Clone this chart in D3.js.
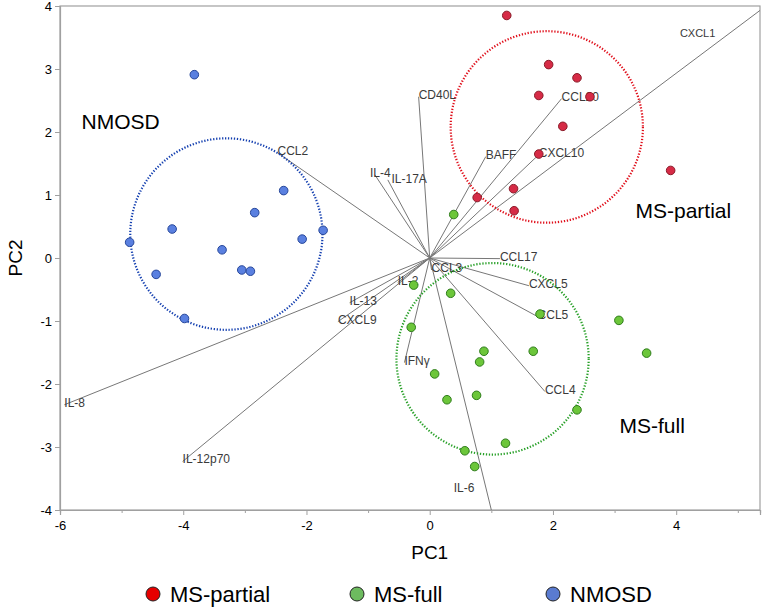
<!DOCTYPE html>
<html>
<head>
<meta charset="utf-8">
<script src="https://cdn.jsdelivr.net/npm/d3@7"></script>
<style>
  body { margin: 0; background: #fff; }
  text { font-family: "Liberation Sans", Arial, sans-serif; }
</style>
</head>
<body>
<div id="chart"></div>
<script>
// PCA biplot: scores per group + cytokine loadings

var msPartial = [
  [1.25, 3.85], [1.93, 3.07], [2.39, 2.86], [1.77, 2.58], [2.6, 2.56],
  [2.16, 2.09], [1.77, 1.65], [1.36, 1.10], [1.37, 0.75], [3.91, 1.39],
  [0.77, 0.96]
];
var msFull = [
  [0.39, 0.69], [-0.26, -0.43], [0.34, -0.56], [-0.30, -1.10], [0.88, -1.48],
  [0.81, -1.65], [0.08, -1.84], [0.28, -2.25], [0.76, -2.18], [1.23, -2.94],
  [0.57, -3.06], [0.73, -3.31], [1.79, -0.89], [3.07, -0.99], [1.68, -1.48],
  [3.52, -1.51], [2.39, -2.41]
];
var nmosd = [
  [-3.82, 2.91], [-4.87, 0.25], [-4.18, 0.46], [-3.37, 0.13], [-2.84, 0.72],
  [-2.37, 1.07], [-2.07, 0.30], [-1.73, 0.44], [-4.44, -0.26], [-3.98, -0.96],
  [-3.05, -0.19], [-2.91, -0.21]
];

// loading vectors: name, x, y
var loadings = [
  ["CXCL1", 5.36, 3.93], ["CD40L", -0.18, 2.56], ["CCL2", -2.47, 1.67],
  ["IL-4", -0.89, 1.32], ["IL-17A", -0.68, 1.24], ["BAFF", 0.91, 1.61],
  ["CCL20", 2.14, 2.53], ["CXCL10", 1.77, 1.64], ["CCL17", 1.14, -0.01],
  ["CXCL5", 1.61, -0.44], ["CCL5", 1.75, -0.93], ["CCL4", 1.87, -2.12],
  ["CCL3", 0.03, -0.19], ["IL-6", 1.0, -4.0], ["IFNγ", -0.41, -1.66],
  ["IL-2", -0.52, -0.39], ["IL-13", -1.30, -0.71], ["CXCL9", -1.49, -1.01],
  ["IL-8", -5.93, -2.33], ["IL-12p70", -4.01, -3.23]
];
// labels that don't sit on the vector tip
var labelAt = {
  "CXCL1": [4.06, 3.54], "IL-6": [0.39, -3.68],
  "IL-4": [-0.97, 1.32], "IL-17A": [-0.62, 1.22]
};

// group ellipses: center x, center y, radius x, radius y
var groupEllipses = [
  ["NMOSD", -3.3, 0.38, 1.56, 1.52],
  ["MS-partial", 1.9, 2.08, 1.56, 1.52],
  ["MS-full", 1.02, -1.6, 1.56, 1.52]
];
var groupLabels = [["NMOSD", -5.65, 2.05], ["MS-partial", 3.34, 0.64], ["MS-full", 3.08, -2.78]];

var xTicks = [-6, -4, -2, 0, 2, 4];
var xMinor = [-5, -3, -1, 1, 3, 5];
var yTicks = [-4, -3, -2, -1, 0, 1, 2, 3, 4];

var colors = {
  "MS-partial": { fill: "#d62b46", stroke: "#8a1a28", legend: "#e60000" },
  "MS-full": { fill: "#6cc63a", stroke: "#2f7d1c", legend: "#6dbb5f" },
  "NMOSD": { fill: "#5a80e0", stroke: "#27479a", legend: "#5a7bd0" }
};
var ringColors = { "MS-partial": "#e0101c", "MS-full": "#28a028", "NMOSD": "#1540b0" };

var W = 765, H = 609;
var svg = d3.select("#chart").append("svg").attr("width", W).attr("height", H);

var x = d3.scaleLinear().domain([-6, 5.36]).range([60, 760]);
var y = d3.scaleLinear().domain([-4, 4]).range([510, 6]);
var fmt = function(d) { return String(d); };

// frame
svg.append("rect")
  .attr("x", x(-6)).attr("y", y(4))
  .attr("width", x(5.36) - x(-6)).attr("height", y(-4) - y(4))
  .attr("fill", "none").attr("stroke", "#a0a0a0").attr("stroke-width", 1.2);

var xAxis = svg.append("g").attr("transform", "translate(0," + y(-4) + ")")
  .call(d3.axisBottom(x).tickValues(xTicks).tickSize(5).tickFormat(fmt));
var xm = svg.append("g").attr("transform", "translate(0," + y(-4) + ")")
  .call(d3.axisBottom(x).tickValues(xMinor).tickSize(3).tickFormat(""));
var yAxis = svg.append("g").attr("transform", "translate(" + x(-6) + ",0)")
  .call(d3.axisLeft(y).tickValues(yTicks).tickSize(5).tickFormat(fmt));

[xAxis, xm, yAxis].forEach(function(g) {
  g.select(".domain").attr("stroke", "#a0a0a0").attr("stroke-width", 1.2);
  g.selectAll(".tick line").attr("stroke", "#a0a0a0");
  g.selectAll("text").attr("font-size", 13).attr("fill", "#000")
    .attr("font-family", "Liberation Sans, Arial, sans-serif");
});
xAxis.selectAll("text").attr("dy", "0.95em");

var plot = svg.append("g");
plot.append("clipPath").attr("id", "clip").append("rect")
  .attr("x", x(-6)).attr("y", y(4))
  .attr("width", x(5.36) - x(-6)).attr("height", y(-4) - y(4));

// loading vectors
plot.append("g").attr("clip-path", "url(#clip)")
  .selectAll("line").data(loadings).join("line")
  .attr("x1", x(0)).attr("y1", y(0))
  .attr("x2", function(d) { return x(d[1]); })
  .attr("y2", function(d) { return y(d[2]); })
  .attr("stroke", "#777").attr("stroke-width", 1);

plot.append("g").selectAll("text").data(loadings).join("text")
  .attr("x", function(d) { return x(labelAt[d[0]] ? labelAt[d[0]][0] : d[1]); })
  .attr("y", function(d) { return y(labelAt[d[0]] ? labelAt[d[0]][1] : d[2]); })
  .attr("dy", 2)
  .attr("font-size", function(d) { return d[0] == "CXCL1" ? 11 : 12; })
  .attr("fill", "#3a3a3a")
  .text(function(d) { return d[0]; });

// dotted group circles
plot.append("g").selectAll("ellipse").data(groupEllipses).join("ellipse")
  .attr("cx", function(d) { return x(d[1]); })
  .attr("cy", function(d) { return y(d[2]); })
  .attr("rx", function(d) { return x(d[3]) - x(0); })
  .attr("ry", function(d) { return y(0) - y(d[4]); })
  .attr("fill", "none")
  .attr("stroke", function(d) { return ringColors[d[0]]; })
  .attr("stroke-width", 2.2)
  .attr("stroke-dasharray", "1.3 1.7");

// points
var groups = [["MS-partial", msPartial], ["MS-full", msFull], ["NMOSD", nmosd]];
groups.forEach(function(g) {
  plot.append("g").selectAll("circle").data(g[1]).join("circle")
    .attr("cx", function(d) { return x(d[0]); })
    .attr("cy", function(d) { return y(d[1]); })
    .attr("r", 4.3)
    .attr("fill", colors[g[0]].fill)
    .attr("stroke", colors[g[0]].stroke)
    .attr("stroke-width", 1);
});

// group names
plot.append("g").selectAll("text").data(groupLabels).join("text")
  .attr("x", function(d) { return x(d[1]); })
  .attr("y", function(d) { return y(d[2]); })
  .attr("font-family", "Open Sans, sans-serif")
  .attr("font-size", 21)
  .attr("fill", "#000")
  .text(function(d) { return d[0]; });

// axis titles
svg.append("text").attr("x", x(0)).attr("y", 559)
  .attr("text-anchor", "middle").attr("font-size", 19).text("PC1");
svg.append("text")
  .attr("transform", "translate(22," + y(0) + ") rotate(-90)")
  .attr("text-anchor", "middle").attr("font-size", 19).text("PC2");

// legend
var legendItems = ["MS-partial", "MS-full", "NMOSD"];
var legendX = [153, 357, 553];
var lg = svg.append("g").selectAll("g").data(legendItems).join("g")
  .attr("transform", function(d, i) { return "translate(" + legendX[i] + ",594)"; });
lg.append("circle").attr("r", 7)
  .attr("fill", function(d) { return colors[d].legend; })
  .attr("stroke", "#222").attr("stroke-width", 1);
lg.append("text").attr("x", 17).attr("y", 8)
  .attr("font-size", 22).text(function(d) { return d; });
</script>
</body>
</html>
